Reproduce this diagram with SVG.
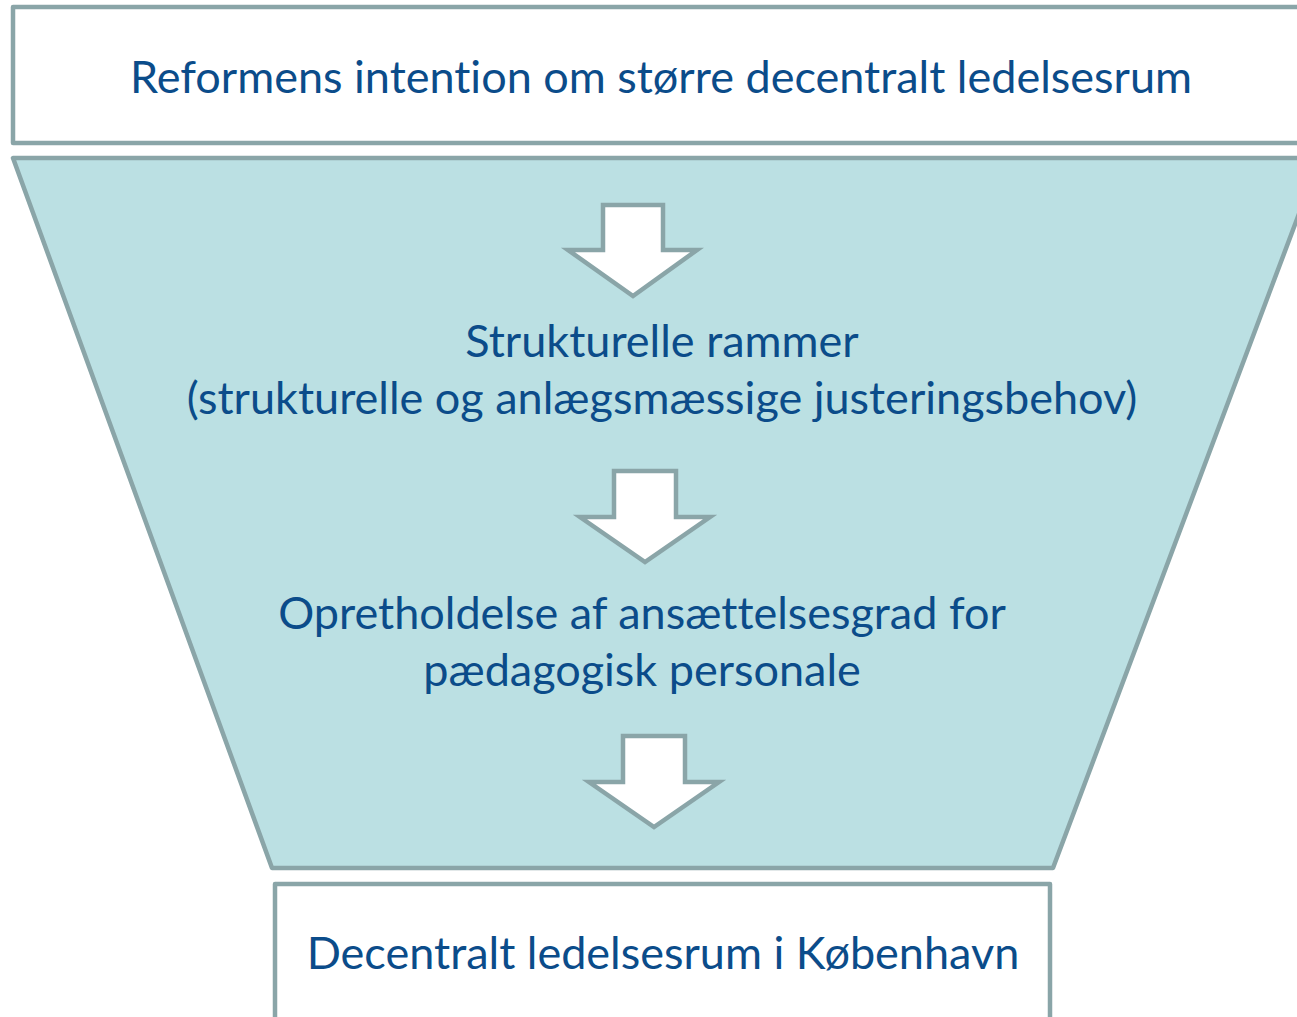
<svg xmlns="http://www.w3.org/2000/svg" width="1297" height="1017" viewBox="0 0 1297 1017">
<style>
.box{fill:#FFFFFF;stroke:#8AA5A8;stroke-width:4.5;stroke-linejoin:round}
.funnel{fill:#BBE0E3;stroke:#8AA5A8;stroke-width:4.5;stroke-linejoin:round}
.arrow{fill:#FFFFFF;stroke:#8AA5A8;stroke-width:4.5;stroke-linejoin:miter}
text{font-family:Lato,"Open Sans",sans-serif;fill:#0B4C8A;font-size:45px;text-anchor:middle;font-variant-ligatures:none}
</style>
<rect width="1297" height="1017" fill="#FFFFFF"/>
<g id="funnel">
<polygon class="funnel" points="13,158 1320,158 1053,868 272,868"/>
</g>
<g id="top-box">
<rect class="box" x="13" y="7" width="1320" height="136"/>
<text x="661" y="93">Reformens intention om større decentralt ledelsesrum</text>
</g>
<g id="strukturelle">
<text x="662" y="357">Strukturelle rammer</text>
<text x="662" y="414">(strukturelle og anlægsmæssige justeringsbehov)</text>
</g>
<g id="opretholdelse">
<text x="642" y="629">Opretholdelse af ansættelsesgrad for</text>
<text x="642" y="686">pædagogisk personale</text>
</g>
<g id="bottom-box">
<rect class="box" x="275" y="884" width="775" height="160"/>
<text x="663" y="969">Decentralt ledelsesrum i København</text>
</g>
<g id="connectors">
<polygon class="arrow" points="603,205 663,205 663,250 697,250 633,296 568,250 603,250"/>
<polygon class="arrow" points="614,471 676,471 676,517 710,517 645,562 580,517 614,517"/>
<polygon class="arrow" points="623,736 685,736 685,782 719,782 654,827 589,782 623,782"/>
</g>
</svg>
